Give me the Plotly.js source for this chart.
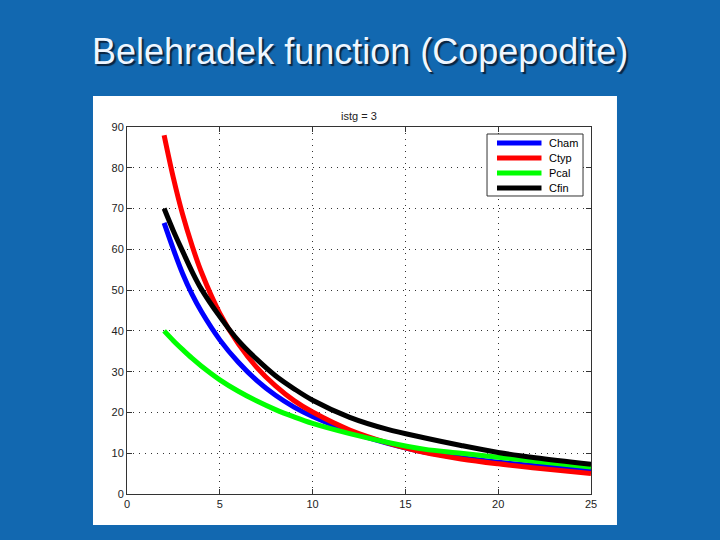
<!DOCTYPE html>
<html>
<head>
<meta charset="utf-8">
<script src="https://cdn.plot.ly/plotly-3.0.1.min.js"></script>
<style>
  html, body { margin: 0; padding: 0; background: #1268b0; }
  #chart { width: 720px; height: 540px; }
</style>
</head>
<body>
<div id="chart"></div>
<script>
// Temperature values (x axis)
const temps = [2, 2.5, 3, 3.5, 4, 5, 6, 7, 8, 9, 10, 12, 14, 16, 18, 20, 22, 25];

// Development time, one array per species
const cham = [66.5, 60.0, 54.0, 49.0, 44.8, 37.8, 32.3, 27.8, 24.2, 21.3, 19.0, 15.3, 12.5, 10.3, 8.9, 7.8, 6.9, 5.8];
const ctyp = [88.0, 77.5, 68.5, 61.0, 54.5, 44.3, 36.8, 31.0, 26.5, 22.9, 20.1, 15.7, 12.6, 10.2, 8.6, 7.4, 6.4, 5.0];
const pcal = [40.0, 37.6, 35.4, 33.3, 31.4, 28.0, 25.2, 22.8, 20.7, 18.9, 17.3, 14.8, 12.7, 11.0, 10.0, 9.0, 8.0, 6.6];
const cfin = [70.0, 64.5, 59.5, 54.6, 50.3, 43.5, 37.6, 33.0, 29.0, 25.8, 23.0, 18.8, 15.9, 13.8, 11.9, 10.2, 8.9, 7.3];

const seriesNames = ['Cham', 'Ctyp', 'Pcal', 'Cfin'];
const seriesData = [cham, ctyp, pcal, cfin];
const seriesColors = ['#0000ff', '#ff0000', '#00ff00', '#000000'];

const xTicks = [0, 5, 10, 15, 20, 25];
const yTicks = [0, 10, 20, 30, 40, 50, 60, 70, 80, 90];

const FONT = 'Liberation Sans, Arial, Helvetica, sans-serif';

const traces = seriesNames.map((name, i) => ({
  x: temps,
  y: seriesData[i],
  name: name,
  type: 'scatter',
  mode: 'lines',
  line: { color: seriesColors[i], width: 5, shape: 'spline', smoothing: 1 }
}));

const axisCommon = {
  showline: true,
  linecolor: '#333333',
  linewidth: 1,
  mirror: 'ticks',
  ticks: 'inside',
  ticklen: 5,
  tickcolor: '#333333',
  showgrid: true,
  gridcolor: '#333333',
  gridwidth: 1,
  griddash: '1px,5px',
  zeroline: false,
  tickfont: { family: FONT, size: 11, color: '#222222' }
};

// Custom MATLAB-style legend (box, sample lines, labels) in paper coordinates
const legendBox = { x0: 0.7759, x1: 0.9828, y0: 0.8120, y1: 0.9809 };
const legendRowsY = [0.9564, 0.9155, 0.8747, 0.8338];
const legendLineX = [0.7974, 0.8933];
const legendTextX = 0.9052;

const shapes = [{
  type: 'rect', xref: 'paper', yref: 'paper', layer: 'below',
  x0: -0.0733, x1: 1.056, y0: -0.0845, y1: 1.0845,
  fillcolor: '#ffffff', line: { width: 0 }
}, {
  type: 'rect', xref: 'paper', yref: 'paper', layer: 'above',
  x0: legendBox.x0, x1: legendBox.x1, y0: legendBox.y0, y1: legendBox.y1,
  fillcolor: '#ffffff', line: { color: '#333333', width: 1 }
}];

const annotations = [
  {
    text: 'Belehradek function (Copepodite)',
    xref: 'paper', yref: 'paper', x: 0.503, y: 1.205,
    xanchor: 'center', yanchor: 'middle', showarrow: false,
    font: { family: FONT, size: 36, color: '#eef6ff', shadow: '2px 2px 1px #0a2440' }
  },
  {
    text: 'istg = 3',
    xref: 'paper', yref: 'paper', x: 0.5, y: 1.0,
    xanchor: 'center', yanchor: 'bottom', yshift: 3, showarrow: false,
    font: { family: FONT, size: 11, color: '#222222' }
  }
];

seriesNames.forEach((name, i) => {
  shapes.push({
    type: 'line', xref: 'paper', yref: 'paper', layer: 'above',
    x0: legendLineX[0], x1: legendLineX[1], y0: legendRowsY[i], y1: legendRowsY[i],
    line: { color: seriesColors[i], width: 5 }
  });
  annotations.push({
    text: name, xref: 'paper', yref: 'paper',
    x: legendTextX, y: legendRowsY[i], xanchor: 'left', yanchor: 'middle',
    showarrow: false,
    font: { family: FONT, size: 11, color: '#000000' }
  });
});

const layout = {
  width: 720,
  height: 540,
  paper_bgcolor: '#1268b0',
  plot_bgcolor: '#ffffff',
  margin: { l: 127, r: 129, t: 127, b: 46 },
  showlegend: false,
  xaxis: Object.assign({}, axisCommon, {
    range: [0, 25],
    tickvals: xTicks,
    ticktext: xTicks.map(String)
  }),
  yaxis: Object.assign({}, axisCommon, {
    range: [0, 90],
    tickvals: yTicks,
    ticktext: yTicks.map(String)
  }),
  shapes: shapes,
  annotations: annotations
};

Plotly.newPlot('chart', traces, layout, { displayModeBar: false, staticPlot: true });
</script>
</body>
</html>
